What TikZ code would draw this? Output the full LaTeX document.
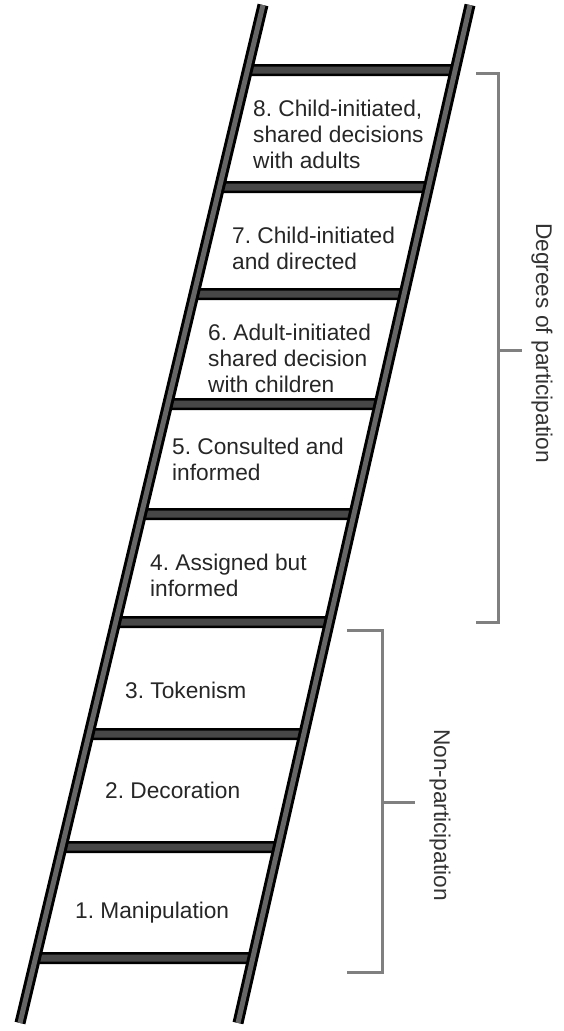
\documentclass[tikz,border=0pt]{standalone}
\usepackage{fontspec}
\setmainfont{Liberation Sans}
\frenchspacing

\tikzset{
  rail/.style={line width=3pt, double=black!60, double distance=5pt},
  rung/.style={line width=2.5pt, double=black!72, double distance=7pt},
  steptext/.style={anchor=west, align=left, inner sep=0pt, text=black!85,
    font=\fontsize{22.7}{26}\selectfont},
  bracket/.style={draw=black!50, line width=3pt},
  bracketlabel/.style={rotate=-90, inner sep=0pt, text=black!80,
    font=\fontsize{22.7}{26}\selectfont}
}

\newcommand{\ladderframe}{
  \coordinate (l1) at (263,5);
  \coordinate (l2) at (20,1023);
  \coordinate (r1) at (470,5);
  \coordinate (r2) at (238,1023);

  \foreach \y in {70,187,294,404,514,622,734,847,958}
    \draw [rung] (intersection cs: first line={(l1)--(l2)}, second line={(0,\y)--(1,\y)})
      -- (intersection cs: first line={(r1)--(r2)}, second line={(0,\y)--(1,\y)});

  \draw [rail] (l1) -- (l2);
  \draw [rail] (r1) -- (r2);
}

\begin{document}
\begin{tikzpicture}[x=1pt,y=-1pt]
      \useasboundingbox (0,0) rectangle (564,1031);
      \ladderframe

      \node [steptext] (s8) at (253,134) {8. Child-initiated,\\shared decisions\\with adults};
      \node [steptext] (s7) at (232,248) {7. Child-initiated\\and directed};
      \node [steptext] (s6) at (208,358) {6. Adult-initiated\\shared decision\\with children};
      \node [steptext] (s5) at (172,459) {5. Consulted and\\informed};
      \node [steptext] (s4) at (150,575) {4. Assigned but\\informed};
      \node [steptext] (s3) at (125,690) {3. Tokenism};
      \node [steptext] (s2) at (105,790) {2. Decoration};
      \node [steptext] (s1) at (75,913) {1. Manipulation};

      % degrees of participation
      \coordinate (dtop) at (476,73);
      \coordinate (dtopc) at (498,73);
      \coordinate (dbotc) at (498,622);
      \coordinate (dbot) at (476,622);
      \coordinate (dmid) at (498,350);
      \coordinate (dtip) at (522,350);
      \draw [bracket] (dtop) -- (dtopc) -- (dbotc) -- (dbot);
      \draw [bracket] (dmid) -- (dtip);
      \node [bracketlabel] (deg) at (542,343) {Degrees of participation};

      % non-participation
      \coordinate (ntop) at (347,630);
      \coordinate (ntopc) at (382,630);
      \coordinate (nbotc) at (382,972);
      \coordinate (nbot) at (347,972);
      \coordinate (nmid) at (382,802);
      \coordinate (ntip) at (415,802);
      \draw [bracket] (ntop) -- (ntopc) -- (nbotc) -- (nbot);
      \draw [bracket] (nmid) -- (ntip);
      \node [bracketlabel] (non) at (440,815) {Non-participation};
\end{tikzpicture}
\end{document}
